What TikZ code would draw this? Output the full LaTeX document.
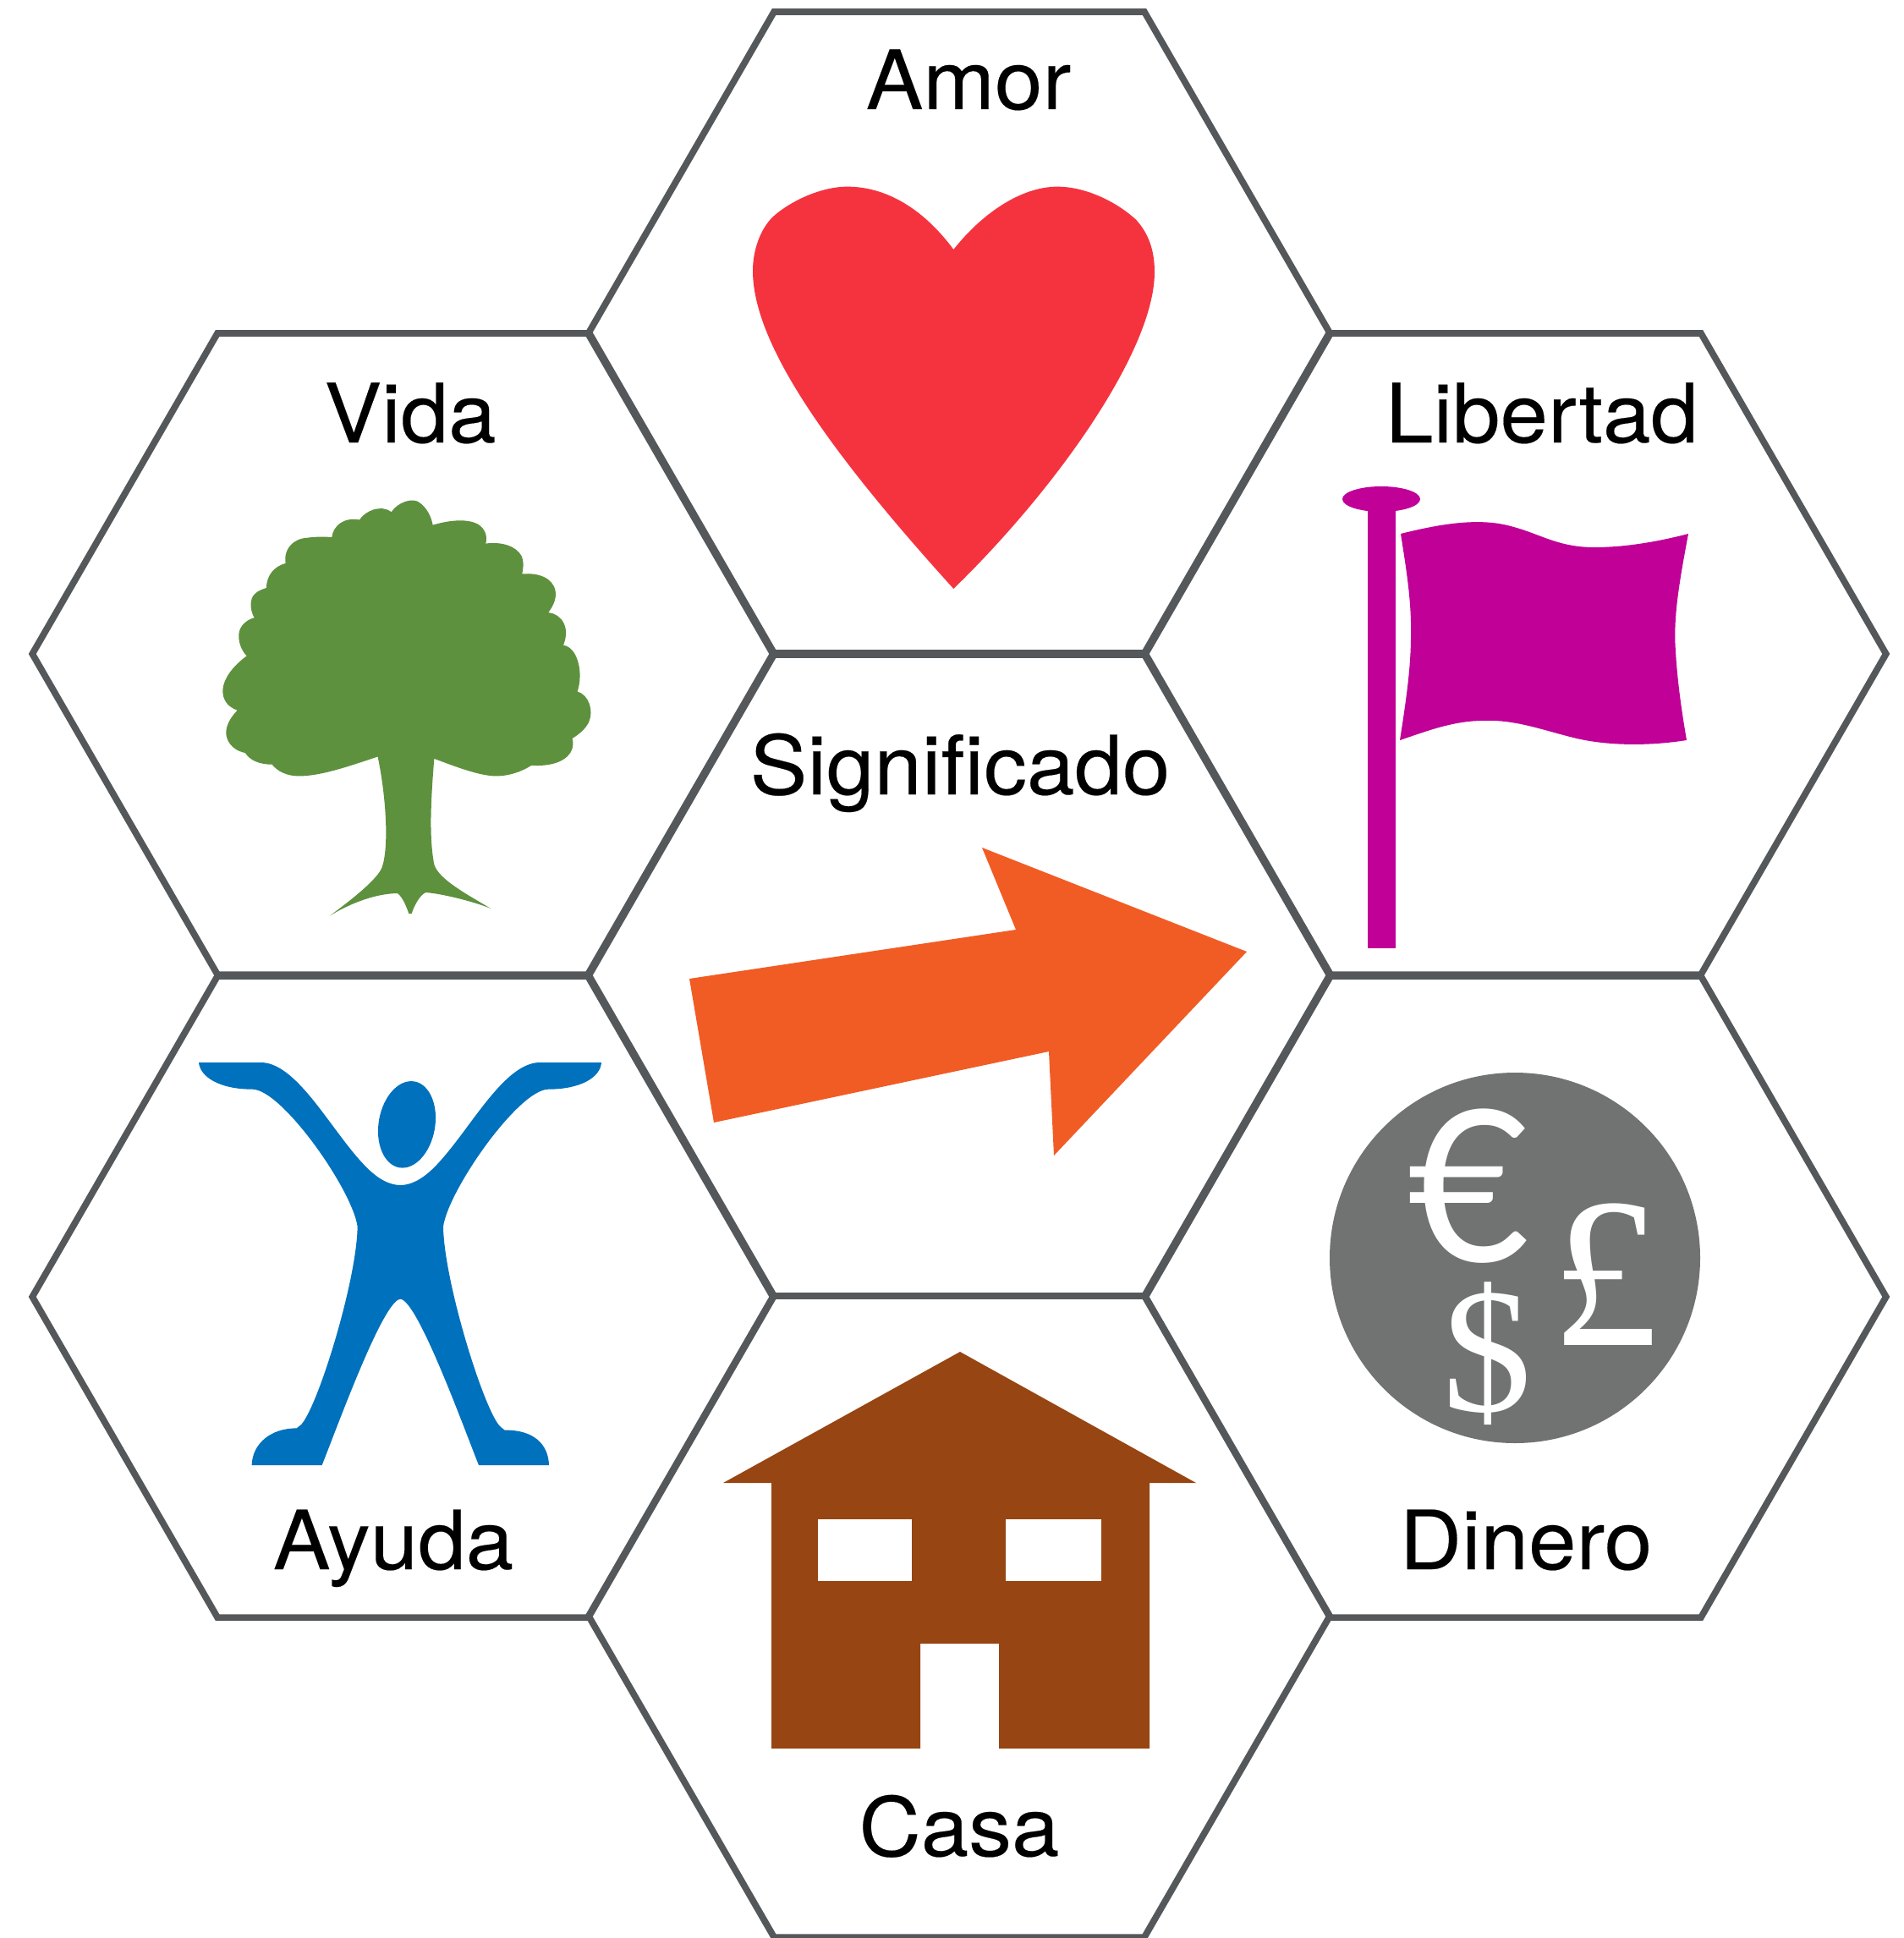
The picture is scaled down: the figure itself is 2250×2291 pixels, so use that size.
\documentclass[tikz,border=0pt]{standalone}
\usepackage{fontspec}
\setmainfont[FakeStretch=1.05,FakeBold=0.2]{TeX Gyre Heros}
\newfontfamily\euroFont{Lato}
\newfontfamily\moneyFont{Liberation Serif}
\usetikzlibrary{shapes.geometric}
\definecolor{hexgray}{RGB}{84,88,90}
\definecolor{heartred}{RGB}{245,51,63}
\definecolor{treegreen}{RGB}{94,145,62}
\definecolor{flagpurple}{RGB}{192,0,151}
\definecolor{arrowrange}{RGB}{241,92,37}
\definecolor{personblue}{RGB}{0,113,188}
\definecolor{coingray}{RGB}{112,115,114}
\definecolor{housebrown}{RGB}{151,69,18}
\begin{document}
\begin{tikzpicture}[x=0.01cm,y=-0.01cm,
    hexcell/.style={draw=hexgray,line width=2.2pt,regular polygon,regular polygon sides=6,
      minimum size=8.75cm,inner sep=0pt,outer sep=0pt},
    celltext/.style={anchor=base,font=\fontsize{27.5}{34}\selectfont,inner sep=0pt}]
  \useasboundingbox (0,0) rectangle (2250,2291);
  \node[hexcell] (amor) at (1134,393) {};
  \node[hexcell] (vida) at (476,773) {};
  \node[hexcell] (libertad) at (1792,773) {};
  \node[hexcell] (significado) at (1134,1153) {};
  \node[hexcell] (ayuda) at (476,1533) {};
  \node[hexcell] (dinero) at (1792,1533) {};
  \node[hexcell] (casa) at (1134,1911) {};
  \node[celltext] (amortext) at (1145,129) {Amor};
  \node[celltext] (vidatext) at (485,523) {Vida};
  \node[celltext] (libertadtext) at (1823,523) {Libertad};
  \node[celltext] (significadotext) at (1135,939) {Significado};
  \node[celltext] (ayudatext) at (465,1855) {Ayuda};
  \node[celltext] (dinerotext) at (1804,1855) {Dinero};
  \node[celltext] (casatext) at (1134,2194) {Casa};
  % heart
  \begin{scope}[shift={(870,200)},scale=1/3]
    \fill[heartred] (772,285) .. controls (680,160) and (550,62) .. (395,62)
      .. controls (300,62) and (190,115) .. (130,170) .. controls (85,215) and (60,290) .. (60,360)
      .. controls (60,620) and (330,1000) .. (772,1488) .. controls (1140,1130) and (1485,640) .. (1485,365)
      .. controls (1485,290) and (1465,230) .. (1420,180) .. controls (1350,115) and (1240,62) .. (1140,62)
      .. controls (1010,62) and (870,160) .. (772,285) -- cycle;
  \end{scope}
  % tree
  \begin{scope}[shift={(240,570)},xscale=0.3333,yscale=0.3423]
    \fill[treegreen] (620,948) .. controls (520,980) and (420,1015) .. (340,1015)
      .. controls (300,1015) and (265,1000) .. (245,975) .. controls (200,975) and (165,960) .. (150,935)
      .. controls (100,925) and (80,890) .. (82,860) .. controls (85,830) and (105,805) .. (122,788)
      .. controls (85,775) and (70,750) .. (70,720) .. controls (72,670) and (120,625) .. (155,600)
      .. controls (135,580) and (125,550) .. (127,525) .. controls (130,495) and (155,475) .. (182,468)
      .. controls (165,440) and (165,400) .. (185,385) .. controls (195,375) and (210,370) .. (225,365)
      .. controls (225,320) and (255,290) .. (293,280) .. controls (285,230) and (320,195) .. (370,192)
      .. controls (400,188) and (430,188) .. (457,190) .. controls (462,150) and (500,120) .. (555,130)
      .. controls (575,100) and (630,75) .. (668,103) .. controls (690,70) and (745,50) .. (770,72)
      .. controls (795,90) and (810,120) .. (815,148) .. controls (860,135) and (930,122) .. (975,145)
      .. controls (1000,160) and (1010,185) .. (1003,212) .. controls (1060,205) and (1110,220) .. (1130,255)
      .. controls (1140,280) and (1135,300) .. (1132,317) .. controls (1190,312) and (1240,330) .. (1250,375)
      .. controls (1255,405) and (1240,430) .. (1225,450) .. controls (1270,455) and (1305,500) .. (1278,563)
      .. controls (1330,570) and (1350,660) .. (1328,723) .. controls (1370,735) and (1385,790) .. (1370,825)
      .. controls (1360,850) and (1335,870) .. (1310,885) .. controls (1325,940) and (1270,985) .. (1165,978)
      .. controls (1130,1000) and (1085,1015) .. (1040,1015) .. controls (980,1015) and (890,980) .. (820,955)
      .. controls (810,1080) and (800,1220) .. (820,1320) .. controls (835,1370) and (930,1420) .. (1020,1472)
      .. controls (950,1445) and (840,1420) .. (790,1417) .. controls (770,1425) and (750,1460) .. (740,1490)
      -- (730,1490) .. controls (720,1460) and (705,1430) .. (690,1420)
      .. controls (620,1420) and (530,1450) .. (450,1497) .. controls (530,1440) and (620,1370) .. (635,1330)
      .. controls (660,1260) and (650,1090) .. (620,948) -- cycle;
  \end{scope}
  % flag
  \fill[flagpurple] (1617,600) rectangle (1650,1121);
  \fill[flagpurple] (1633,590) ellipse [x radius=46,y radius=15];
  \fill[flagpurple] (1656,631) .. controls (1700,620) and (1745,612) .. (1782,621)
    .. controls (1820,630) and (1840,647) .. (1885,647) .. controls (1925,647) and (1965,639) .. (1996,631)
    .. controls (1985,690) and (1978,730) .. (1981,770) .. controls (1983,805) and (1988,840) .. (1994,875)
    .. controls (1950,882) and (1900,882) .. (1860,872) .. controls (1820,862) and (1790,850) .. (1750,852)
    .. controls (1715,853) and (1685,865) .. (1655,875) .. controls (1662,830) and (1668,790) .. (1668,752)
    .. controls (1669,710) and (1662,670) .. (1656,631) -- cycle;
  % arrow
  \fill[arrowrange] (815,1157) -- (1201,1099) -- (1161,1002) -- (1474,1125) -- (1246,1366)
    -- (1240,1243) -- (844,1327) -- cycle;
  % person
  \begin{scope}[shift={(220,1240)},scale=1/3]
    \fill[personblue] (45,48) -- (270,48) .. controls (400,55) and (520,300) .. (640,420)
      .. controls (680,460) and (720,483) .. (760,483)
      .. controls (800,483) and (840,460) .. (880,420) .. controls (1000,300) and (1120,55) .. (1250,48) -- (1473,48)
      .. controls (1470,100) and (1400,143) .. (1285,143) .. controls (1180,143) and (930,500) .. (912,630)
      .. controls (915,830) and (1060,1290) .. (1115,1340) -- (1130,1352)
      .. controls (1230,1350) and (1285,1400) .. (1287,1476)
      -- (1038,1476) .. controls (980,1330) and (820,890) .. (760,887)
      .. controls (700,890) and (540,1330) .. (482,1476) -- (233,1476)
      .. controls (235,1400) and (300,1345) .. (392,1345) -- (405,1335)
      .. controls (460,1290) and (605,830) .. (608,630) .. controls (590,500) and (340,143) .. (235,143)
      .. controls (120,143) and (50,100) .. (45,48) -- cycle;
    \fill[personblue,rotate around={-10:(783,268)}] (783,268) ellipse [x radius=100,y radius=155];
  \end{scope}
  % coin
  \fill[coingray] (1791,1487) circle [radius=219];
  \node[text=white,inner sep=0pt,font=\euroFont\fontsize{71}{72}\selectfont] (euro) at (1737,1402) {€};
  \node[text=white,inner sep=0pt,font=\moneyFont\fontsize{60}{62}\selectfont] (dollar) at (1758,1600) {\$};
  \node[text=white,inner sep=0pt,font=\moneyFont\fontsize{72}{74}\selectfont] (pound) at (1898,1507) {£};
  % house
  \fill[housebrown] (1135,1598) -- (1414,1753) -- (1359,1753) -- (1359,2067) -- (1181,2067) -- (1181,1943)
    -- (1088,1943) -- (1088,2067) -- (912,2067) -- (912,1753) -- (855,1753) -- cycle;
  \fill[white] (967,1796) rectangle (1078,1869);
  \fill[white] (1189,1796) rectangle (1302,1869);
\end{tikzpicture}
\end{document}
